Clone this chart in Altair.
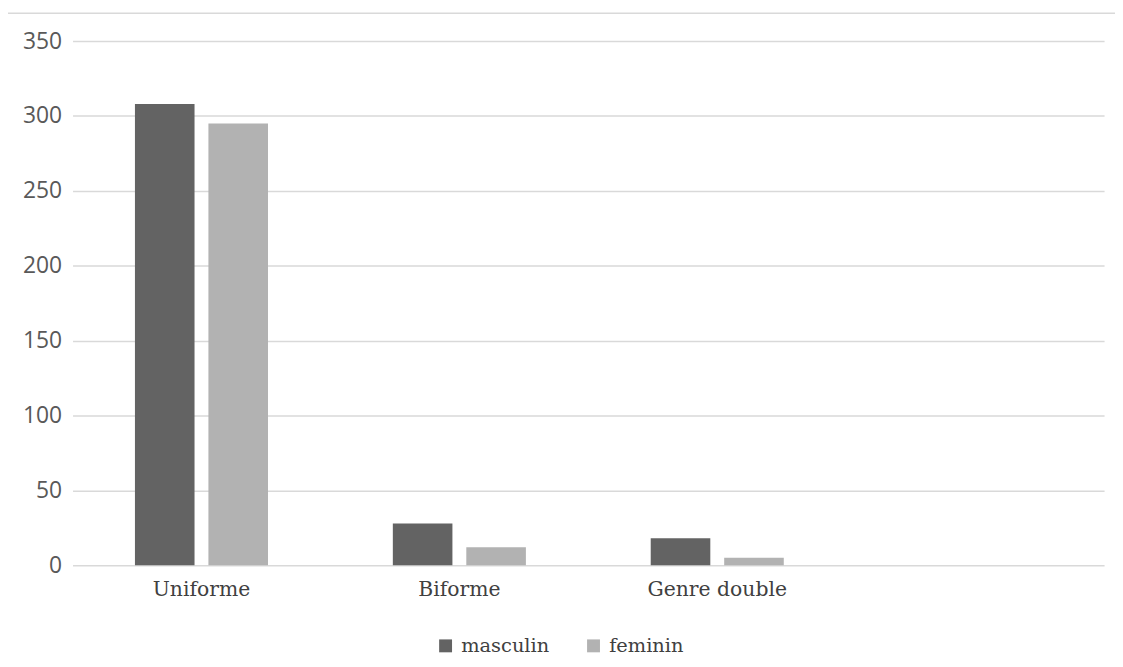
import altair as alt
import pandas as pd

categories = ["Uniforme", "Biforme", "Genre double"]
masculin = [308, 28, 18]
feminin = [295, 12, 5]
series = ["masculin", "feminin"]
y_ticks = [0, 50, 100, 150, 200, 250, 300, 350]

rows = []
for c, m, f in zip(categories, masculin, feminin):
    rows.append({"cat": c, "serie": "masculin", "val": m})
    rows.append({"cat": c, "serie": "feminin", "val": f})
df = pd.DataFrame(rows)

x_domain = categories + [" "]

bars = alt.Chart(df).mark_bar().encode(
    x=alt.X("cat:N", sort=x_domain,
            scale=alt.Scale(domain=x_domain, paddingInner=0.484, paddingOuter=0.242),
            axis=alt.Axis(title=None, labelAngle=0, domain=False, ticks=False,
                          labelFont="DejaVu Serif", labelFontSize=20.5, labelColor="#404040",
                          labelPadding=14, grid=False)),
    xOffset=alt.XOffset("serie:N", sort=series,
                        scale=alt.Scale(domain=series, paddingInner=0.189, paddingOuter=0)),
    y=alt.Y("val:Q", scale=alt.Scale(domain=[0, 350]),
            axis=alt.Axis(title=None, values=y_ticks, domain=False, ticks=False,
                          labelFont="Open Sans", labelFontSize=23, labelColor="#595959",
                          labelPadding=11, gridColor="#d9d9d9", gridWidth=1.5)),
    color=alt.Color("serie:N", sort=series,
                    scale=alt.Scale(domain=series, range=["#636363", "#b2b2b2"]),
                    legend=alt.Legend(title=None, orient="none", direction="horizontal",
                                      legendX=366, legendY=599,
                                      symbolType="square", symbolSize=169,
                                      symbolStrokeWidth=0, labelOffset=6,
                                      columnPadding=34,
                                      labelFont="DejaVu Serif", labelFontSize=19.5,
                                      labelColor="#404040")),
)

top_line = alt.Chart(pd.DataFrame({"v": [0]})).mark_rule(
    clip=False, color="#d9d9d9", strokeWidth=1.5
).encode(x=alt.value(-80), x2=alt.value(1060), y=alt.value(-28))

chart = alt.layer(bars, top_line).properties(
    width=1039, height=528,
    autosize=alt.AutoSizeParams(type="none"),
    padding={"left": 65, "top": 31, "right": 11, "bottom": 90},
).configure(background="white").configure_view(stroke=None, strokeWidth=0)

chart.save("out.html", embed_options={"renderer": "svg", "actions": False})
